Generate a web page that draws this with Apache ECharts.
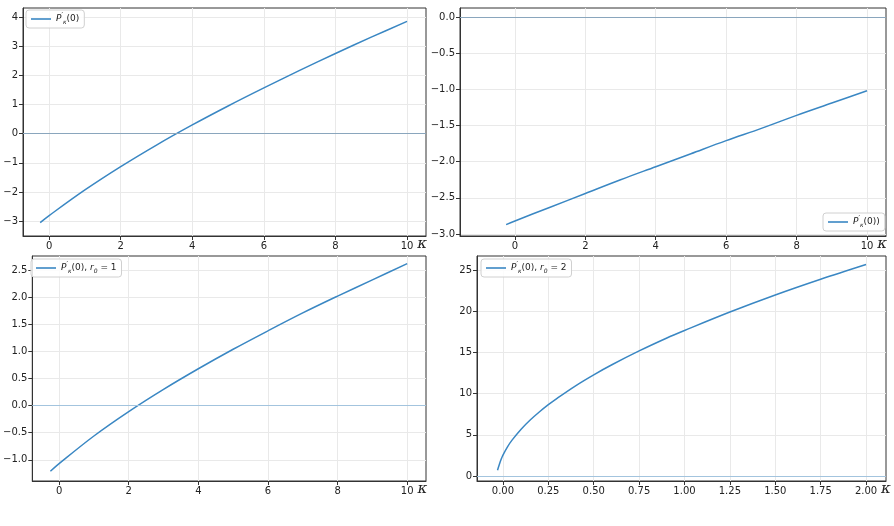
<!DOCTYPE html>
<html>
<head>
<meta charset="utf-8">
<title>P'κ(0)</title>
<script src="https://cdn.jsdelivr.net/npm/echarts@6.0.0/dist/echarts.min.js"></script>
<style>
  html, body { margin: 0; padding: 0; background: #fff; }
  #chart { width: 894px; height: 526px; }
</style>
</head>
<body>
<div id="chart"></div>
<script>
const kappa = [-0.25, 0, 1, 2, 3, 4, 5, 6, 7, 8, 9, 10]
const pTopLeft = [-3.05, -2.81, -1.93, -1.13, -0.39, 0.30, 0.95, 1.57, 2.17, 2.75, 3.31, 3.85]
const pTopRight = [-2.87, -2.82, -2.63, -2.44, -2.25, -2.07, -1.89, -1.71, -1.54, -1.36, -1.19, -1.02]
const pBottomLeft = [-1.21, -1.07, -0.56, -0.11, 0.30, 0.68, 1.04, 1.38, 1.71, 2.02, 2.32, 2.62]

const kappaFine = [-0.03, -0.02, -0.01, 0, 0.025, 0.05, 0.1, 0.15, 0.2, 0.25, 0.3, 0.4, 0.5, 0.6, 0.75, 0.9, 1.0, 1.25, 1.5, 1.75, 2.0]
const pBottomRight = [0.7, 1.39, 2.03, 2.54, 3.54, 4.35, 5.68, 6.79, 7.76, 8.65, 9.46, 10.95, 12.28, 13.5, 15.18, 16.72, 17.66, 19.9, 21.97, 23.88, 25.67]

const ticksKappa = [0, 2, 4, 6, 8, 10]
const ticksKappaFine = [0, 0.25, 0.5, 0.75, 1, 1.25, 1.5, 1.75, 2]
const ticksTopLeft = [-3, -2, -1, 0, 1, 2, 3, 4]
const ticksTopRight = [-3, -2.5, -2, -1.5, -1, -0.5, 0]
const ticksBottomLeft = [-1, -0.5, 0, 0.5, 1, 1.5, 2, 2.5]
const ticksBottomRight = [0, 5, 10, 15, 20, 25]

const legendText = {
  a: '{p|P}{s|′}{k|κ}{t|(0)}',
  b: '{p|P}{s|′}{k|κ}{t|(0))}',
  c: '{p|P}{s|′}{k|κ}{t|(0), }{p|r}{k|0}{t| = 1}',
  d: '{p|P}{s|′}{k|κ}{t|(0), }{p|r}{k|0}{t| = 2}'
}

const LINE = '#3a87c3'
const FONT = 'DejaVu Sans'

const minus = (s) => s.replace('-', '\u2212')

const grids = [
  { left: 23, top: 8, width: 403, height: 228 },
  { left: 460, top: 8, width: 426, height: 228 },
  { left: 28, top: 256, width: 398, height: 225 },
  { left: 477, top: 256, width: 409, height: 225 }
].map(g => ({ ...g, show: true, borderColor: '#333', borderWidth: 1, backgroundColor: 'transparent' }))

const makeAxis = (type, idx, min, max, ticks, digits) => {
  const isX = type === 'x'
  const axis = {
    type: 'value',
    gridIndex: idx,
    min,
    max,
    axisLine: { show: true, onZero: false, lineStyle: { color: '#333', width: 1 } },
    axisTick: { show: true, length: 4, customValues: ticks, lineStyle: { color: '#333' } },
    axisLabel: {
      customValues: ticks,
      margin: 5,
      fontSize: 10,
      fontFamily: FONT,
      color: '#222',
      formatter: v => minus(v.toFixed(digits))
    },
    splitLine: { show: true, lineStyle: { color: '#e9e9e9', width: 1 } }
  }
  if (isX) {
    axis.name = 'κ'
    axis.nameLocation = 'end'
    axis.nameGap = -4
    axis.nameTextStyle = {
      fontFamily: 'DejaVu Serif',
      fontStyle: 'italic',
      fontSize: 15,
      color: '#222',
      align: 'center',
      verticalAlign: 'top',
      padding: [1, 0, 0, 0]
    }
  }
  return axis
}

const xAxes = [
  makeAxis('x', 0, -0.73, 10.53, ticksKappa, 0),
  makeAxis('x', 1, -1.56, 10.54, ticksKappa, 0),
  makeAxis('x', 2, -0.77, 10.54, ticksKappa, 0),
  makeAxis('x', 3, -0.143, 2.11, ticksKappaFine, 2)
]

const yAxes = [
  makeAxis('y', 0, -3.51, 4.31, ticksTopLeft, 0),
  makeAxis('y', 1, -3.028, 0.124, ticksTopRight, 1),
  makeAxis('y', 2, -1.39, 2.76, ticksBottomLeft, 1),
  makeAxis('y', 3, -0.61, 26.7, ticksBottomRight, 0)
]

const zeroLine = (color) => ({
  silent: true,
  symbol: ['none', 'none'],
  label: { show: false },
  lineStyle: { color, width: 1.2, type: 'solid' },
  data: [{ yAxis: 0 }]
})

const makeSeries = (name, idx, xs, ys, zeroColor) => ({
  name,
  type: 'line',
  xAxisIndex: idx,
  yAxisIndex: idx,
  data: xs.map((x, i) => [x, ys[i]]),
  showSymbol: false,
  symbol: 'none',
  smooth: 0.35,
  lineStyle: { color: LINE, width: 1.5 },
  itemStyle: { color: LINE },
  markLine: zeroLine(zeroColor)
})

const series = [
  makeSeries('a', 0, kappa, pTopLeft, '#8aa6bd'),
  makeSeries('b', 1, kappa, pTopRight, '#8aa6bd'),
  makeSeries('c', 2, kappa, pBottomLeft, '#a3c4de'),
  makeSeries('d', 3, kappaFine, pBottomRight, '#a3c4de')
]

const rich = {
  p: { fontFamily: FONT, fontStyle: 'italic', fontSize: 9, color: '#222', lineHeight: 14 },
  s: { fontFamily: FONT, fontSize: 7, color: '#222', verticalAlign: 'top', lineHeight: 14 },
  k: { fontFamily: FONT, fontStyle: 'italic', fontSize: 6, color: '#222', verticalAlign: 'bottom', lineHeight: 14, padding: [0, 0, 1, 0] },
  t: { fontFamily: FONT, fontSize: 9, color: '#222', lineHeight: 14 }
}

const makeLegend = (name, left, top) => ({
  data: [{ name, icon: 'rect' }],
  left,
  top,
  orient: 'vertical',
  itemWidth: 20,
  itemHeight: 1.6,
  padding: [2, 5],
  borderColor: '#d0d0d0',
  borderWidth: 1,
  borderRadius: 3,
  backgroundColor: 'rgba(255,255,255,0.85)',
  formatter: n => legendText[n],
  textStyle: { rich }
})

const legends = [
  makeLegend('a', 26, 10),
  makeLegend('b', 823, 213),
  makeLegend('c', 31, 259),
  makeLegend('d', 481, 259)
]

const chart = echarts.init(document.getElementById('chart'), null, { renderer: 'canvas' })
chart.setOption({
  animation: false,
  backgroundColor: '#fff',
  grid: grids,
  xAxis: xAxes,
  yAxis: yAxes,
  legend: legends,
  series
})
</script>
</body>
</html>
